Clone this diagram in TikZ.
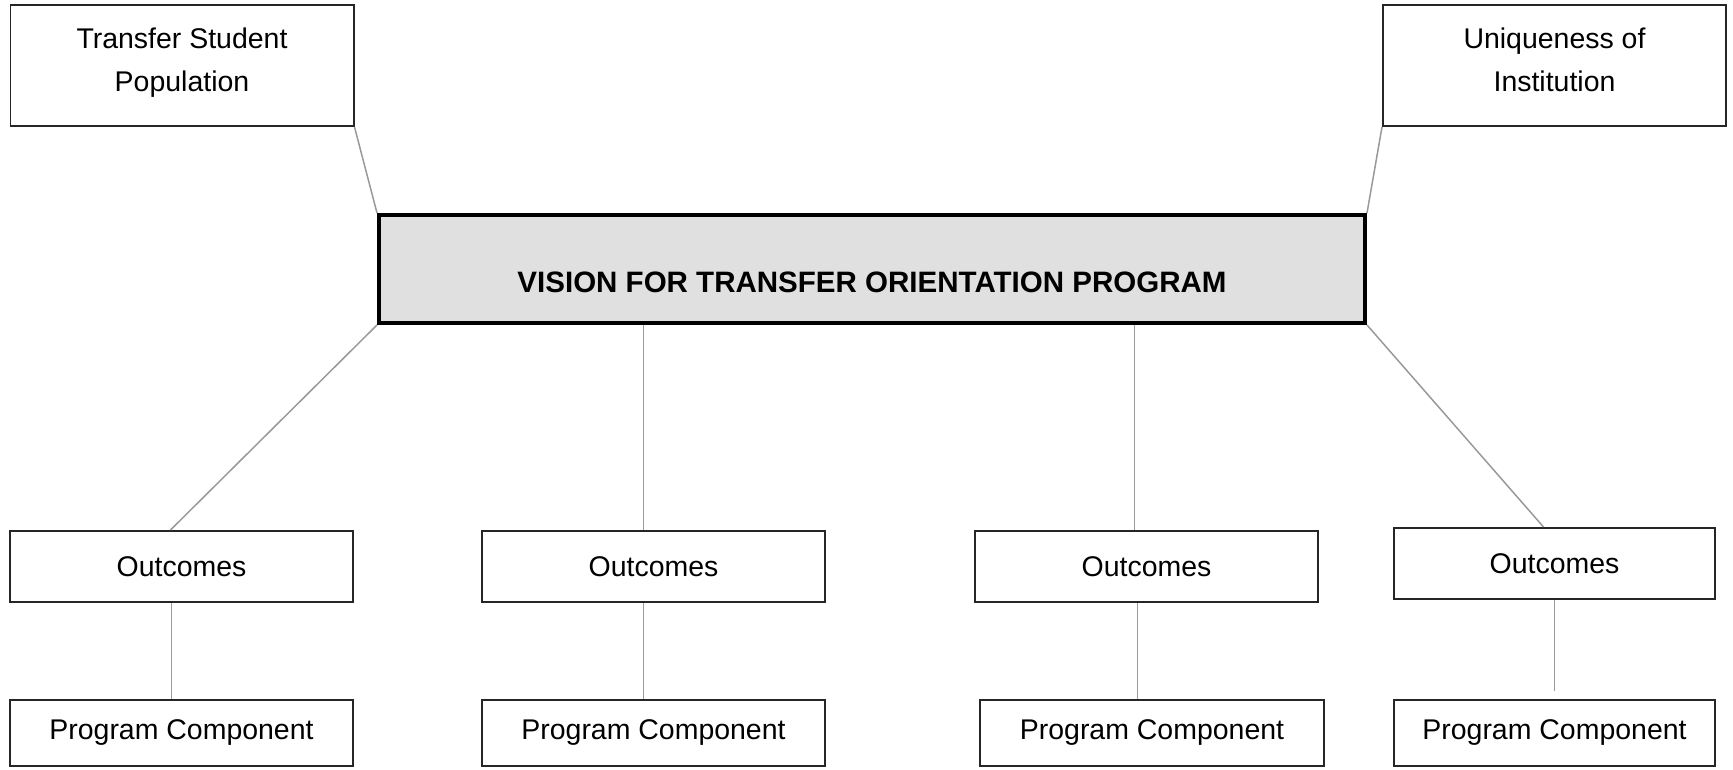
\documentclass[tikz,border=0pt]{standalone}
\usepackage{fontspec}
\setmainfont{Liberation Sans}
\usetikzlibrary{positioning}

\definecolor{linkgray}{gray}{0.6}
\definecolor{visiongray}{gray}{0.88}

\tikzset{
  box/.style={rectangle,draw=black!85,line width=0.04cm,minimum width=6.86cm,align=center,font=\fontsize{16.2}{24.5}\selectfont},
  headbox/.style={box,minimum height=2.42cm,text height=1.3cm,text depth=0.24cm},
  visionbox/.style={rectangle,draw=black,line width=0.08cm,fill=visiongray,minimum width=19.72cm,minimum height=2.16cm,font=\fontsize{16.8}{20}\selectfont\bfseries,text height=0.96cm,text depth=0pt},
  link/.style={draw=linkgray,line width=0.03cm}
}

\begin{document}
\begin{tikzpicture}
\useasboundingbox (0,0) rectangle (34.66,15.38);

\node[headbox] (population) at (3.64,14.07) {Transfer Student\\Population};
\node[headbox] (uniqueness) at (31.09,14.07) {Uniqueness of\\Institution};
\node[visionbox] (vision) at (17.44,10.0) {VISION FOR TRANSFER ORIENTATION PROGRAM};

\node[box,minimum height=1.42cm] (outcomesA) at (3.63,4.05) {Outcomes};
\node[box,minimum height=1.42cm] (outcomesB) at (13.07,4.05) {Outcomes};
\node[box,minimum height=1.42cm] (outcomesC) at (22.93,4.05) {Outcomes};
\node[box,minimum height=1.42cm,minimum width=6.42cm] (outcomesD) at (31.09,4.11) {Outcomes};

\node[box,minimum height=1.32cm] (componentA) at (3.63,0.72) {Program Component};
\node[box,minimum height=1.32cm] (componentB) at (13.07,0.72) {Program Component};
\node[box,minimum height=1.32cm,minimum width=6.88cm] (componentC) at (23.04,0.72) {Program Component};
\node[box,minimum height=1.32cm,minimum width=6.42cm] (componentD) at (31.09,0.72) {Program Component};

\draw[link] (population.south east) -- (vision.north west);
\draw[link] (uniqueness.south west) -- (vision.north east);

\draw[link] (vision.south west) -- ([xshift=-0.22cm]outcomesA.north);
\draw[link] ([xshift=-0.2cm]outcomesB.north |- vision.south) -- ([xshift=-0.2cm]outcomesB.north);
\draw[link] ([xshift=-0.24cm]outcomesC.north |- vision.south) -- ([xshift=-0.24cm]outcomesC.north);
\draw[link] (vision.south east) -- ([xshift=-0.22cm]outcomesD.north);

\draw[link] ([xshift=-0.2cm]outcomesA.south) -- ([xshift=-0.2cm]outcomesA.south |- componentA.north);
\draw[link] ([xshift=-0.2cm]outcomesB.south) -- ([xshift=-0.2cm]outcomesB.south |- componentB.north);
\draw[link] ([xshift=-0.18cm]outcomesC.south) -- ([xshift=-0.18cm]outcomesC.south |- componentC.north);
\draw[link,shorten >=0.16cm] (outcomesD.south) -- (componentD.north);

\end{tikzpicture}
\end{document}
